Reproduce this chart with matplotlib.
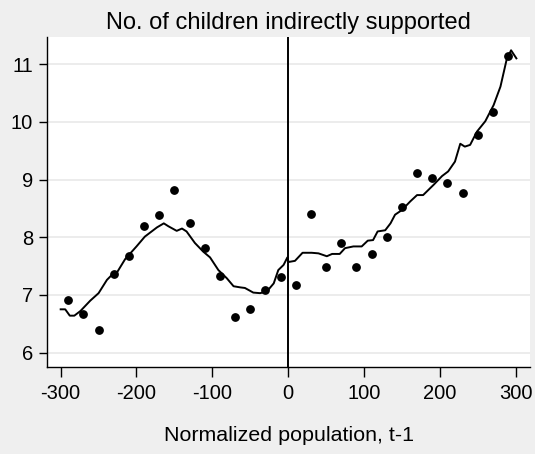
import matplotlib
matplotlib.use("Agg")
import matplotlib.pyplot as plt

plt.rcParams['font.family'] = ['Liberation Sans', 'DejaVu Sans']
plt.rcParams['axes.unicode_minus'] = False

# binned means (dots)
bin_x = [-290, -270, -250, -230, -210, -190, -170, -150, -130, -110, -90, -70, -50, -30, -10,
         10, 30, 50, 70, 90, 110, 130, 150, 170, 190, 210, 230, 250, 270, 290]
bin_y = [6.92, 6.67, 6.40, 7.37, 7.67, 8.20, 8.38, 8.81, 8.24, 7.82, 7.33, 6.62, 6.75, 7.08, 7.31,
         7.18, 8.40, 7.49, 7.90, 7.48, 7.71, 8.01, 8.52, 9.11, 9.02, 8.94, 8.76, 9.77, 10.17, 11.14]

# smoothed fit (line)
fit_x = [-300, -294, -288, -282, -274, -261, -250, -239, -233, -228, -215, -200, -189, -180,
         -173, -164, -158, -147, -140, -134, -123, -112, -103, -92, -81, -72, -63, -57, -46,
         -37, -28, -19, -13, -6, -1, 0.5, 9, 19, 31, 40, 51, 58, 68, 75, 86, 97, 105, 112,
         118, 128, 135, 141, 150, 161, 170, 178, 192, 203, 211, 220, 227, 233, 240, 249, 260,
         271, 280, 288, 294, 301]
fit_y = [6.75, 6.75, 6.64, 6.64, 6.72, 6.90, 7.03, 7.26, 7.34, 7.34, 7.62, 7.84, 8.01, 8.10,
         8.17, 8.24, 8.19, 8.11, 8.15, 8.10, 7.90, 7.75, 7.65, 7.43, 7.29, 7.15, 7.13, 7.12, 7.04,
         7.03, 7.06, 7.20, 7.43, 7.52, 7.65, 7.57, 7.59, 7.73, 7.73, 7.72, 7.67, 7.71, 7.71, 7.81,
         7.84, 7.84, 7.94, 7.95, 8.10, 8.12, 8.24, 8.39, 8.47, 8.62, 8.73, 8.73, 8.91, 9.06, 9.14,
         9.31, 9.62, 9.57, 9.60, 9.83, 10.01, 10.29, 10.61, 11.07, 11.24, 11.10]

xticks = [-300, -200, -100, 0, 100, 200, 300]
yticks = [6, 7, 8, 9, 10, 11]

fig = plt.figure(figsize=(5.35, 4.54), dpi=100, facecolor='#efefef')
ax = fig.add_axes([0.0879, 0.1916, 0.9028, 0.7269])
ax.set_facecolor('white')

ax.grid(axis='y', color='#eaeaea', linewidth=1.3)
ax.set_axisbelow(True)

ax.axvline(0, color='black', linewidth=1.4)
ax.plot(fit_x, fit_y, color='black', linewidth=1.4)
ax.scatter(bin_x, bin_y, s=28, color='black', zorder=3)

ax.set_xlim(-318, 319)
ax.set_ylim(5.75, 11.47)
ax.set_xticks(xticks)
ax.set_yticks(yticks)

for side in ['top', 'right']:
    ax.spines[side].set_visible(False)
ax.spines['left'].set_linewidth(1.0)
ax.spines['bottom'].set_linewidth(1.0)
ax.tick_params(axis='x', length=7, width=1, labelsize=14.5, pad=5)
ax.tick_params(axis='y', length=6, width=1, labelsize=14.5, pad=4)

ax.set_title('No. of children indirectly supported', fontsize=17, pad=5.5)
ax.set_xlabel('Normalized population, t-1', fontsize=15.4, labelpad=17)

fig.savefig('out.png', dpi=100, facecolor=fig.get_facecolor())
